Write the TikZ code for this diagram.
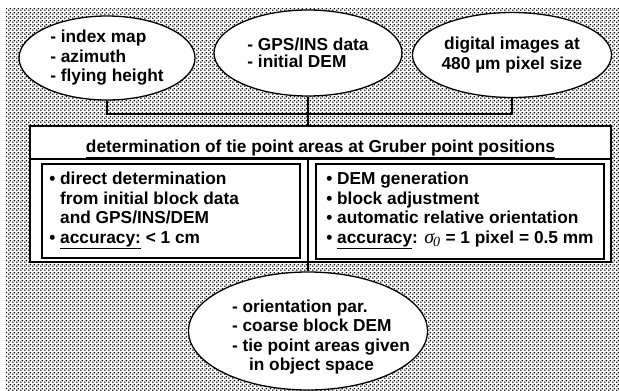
\documentclass[tikz,border=0pt]{standalone}
\usepackage{fontspec}
\setmainfont{Liberation Sans}
\newfontfamily\sigmafont{Liberation Serif}
\usetikzlibrary{shapes.geometric,patterns.meta}

% halftone dot screen for the background
\tikzdeclarepattern{
  name=halftone,
  type=uncolored,
  bounding box={(0pt,0pt) and (4pt,4pt)},
  tile size={(4pt,4pt)},
  code={
    \fill (1pt,1pt) circle (1.05pt);
    \fill (3pt,3pt) circle (1.05pt);
  }
}

\newcommand{\bul}{•\ }
\newcommand{\hang}{\hphantom{•}\ }
\newcommand{\sigmanought}{{\sigmafont\itshape\mdseries\fontsize{20}{20}\selectfont σ\kern-1pt\textsubscript{0}}}

\begin{document}
\begin{tikzpicture}[
  x=1pt, y=-1pt,
  font=\fontsize{17.3}{19.5}\selectfont\bfseries,
  bubble/.style={ellipse, draw, line width=1.3pt, fill=white, inner sep=0pt, align=left},
  frame/.style={draw, line width=1.8pt, fill=white, inner sep=0pt},
  body/.style={anchor=west, align=left, inner sep=0pt},
  link/.style={line width=1.3pt}
]
\useasboundingbox (0,0) rectangle (619,391);
\fill[pattern=halftone, pattern color=black] (6,8) rectangle (619,391);

% inputs
\node[bubble, minimum width=176pt, minimum height=84pt] (inp1) at (107,58)
  {- index map\\- azimuth\\- flying height};
\node[bubble, minimum width=188pt, minimum height=86pt] (inp2) at (308,53)
  {- GPS/INS data\\[-2.5pt]- initial DEM};
\node[bubble, minimum width=178pt, minimum height=85pt, align=center] (inp3) at (512,55)
  {digital images at\\480 µm pixel size};

% processing block
\node[frame, minimum width=581pt, minimum height=136pt] (main) at (320.5,194) {};
\node[anchor=base, inner sep=0pt] (title) at (320.5,152)
  {\underline{determination of tie point areas at Gruber point positions}};
\coordinate (sepl) at (30,159);
\coordinate (sepr) at (611,159);
\coordinate (hub) at (308,159);

\node[frame, minimum width=258pt, minimum height=94pt] (lbox) at (171,211) {};
\node[body] (ltext) at ([xshift=8pt,yshift=0.5pt]lbox.west)
  {\bul direct determination\\\hang from initial block data\\\hang and GPS/INS/DEM\\\bul\underline{accuracy:} < 1 cm};

\node[frame, minimum width=288pt, minimum height=95pt] (rbox) at (460,211.5) {};
\node[body] (rtext) at ([xshift=11pt,yshift=1pt]rbox.west)
  {\bul DEM generation\\\bul block adjustment\\\bul automatic relative orientation\\\bul\underline{accuracy}: \sigmanought\ = 1 pixel = 0.5 mm};

% result
\node[bubble, minimum width=239pt, minimum height=118pt] (out) at (308,331) {};
\node[align=left, inner sep=0pt] (outtext) at (321,337)
  {- orientation par.\\- coarse block DEM\\- tie point areas given\\\hspace{17pt}in object space};

% connectors
\draw[line width=1.8pt] (sepl) -- (sepr);
\draw[link] (inp1.south) -- (inp1.south |- 0,114) -- (inp3.south |- 0,114) -- (inp3.south);
\draw[link] (inp2.south) -- (main.north -| inp2.south);
\draw[link] (hub) -- (out.north);
\end{tikzpicture}
\end{document}
